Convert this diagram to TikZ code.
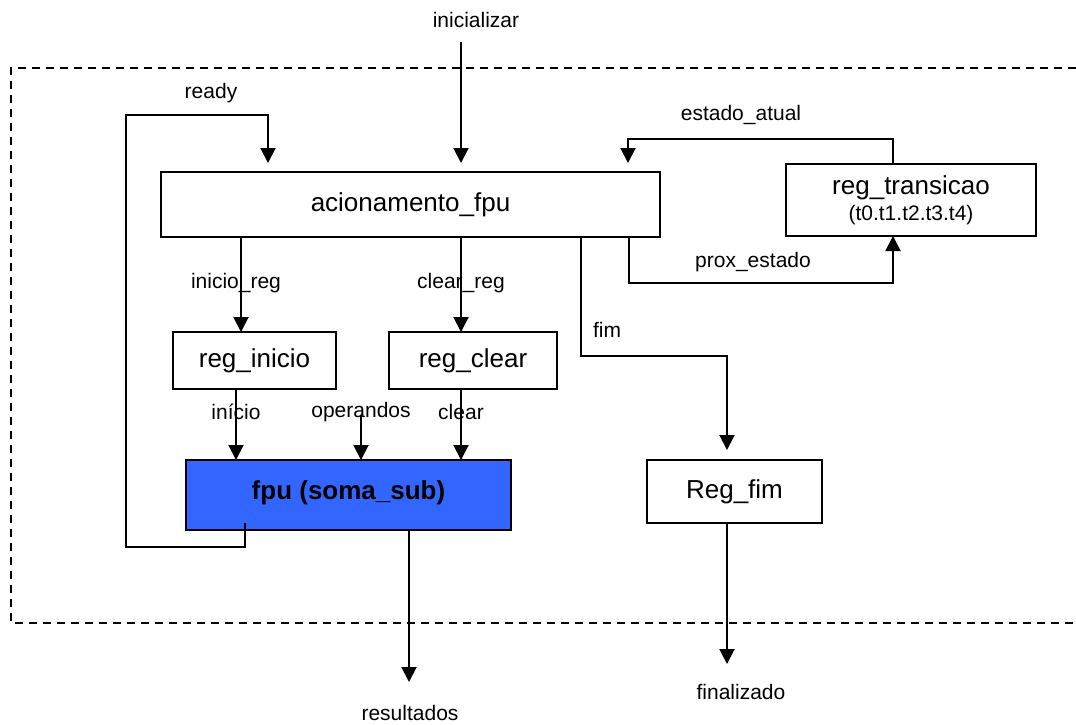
\documentclass[tikz,border=0pt]{standalone}
\usepackage{fontspec}
\setmainfont{Liberation Sans}
\usetikzlibrary{arrows.meta}
\begin{document}
\begin{tikzpicture}[x=1pt,y=-1pt,
  wire/.style={line width=2pt},
  arr/.style={wire,-{Triangle[width=15pt,length=15pt]}},
  blockbox/.style={draw,line width=2pt,inner sep=0pt,outer sep=0pt,
    font=\fontsize{26}{30}\selectfont},
  sig/.style={inner sep=0pt,font=\fontsize{21}{24}\selectfont}]
\useasboundingbox (0,0) rectangle (1076,724);

% system boundary (open on the right)
\draw[line width=2pt,dash pattern=on 8pt off 6pt]
  (1076,68) -- (11,68) -- (11,623) -- (1076,623);

% blocks
\node[blockbox,minimum width=499pt,minimum height=65pt] (acio) at (410.5,204.5) {acionamento\_fpu};
\node[blockbox,minimum width=250pt,minimum height=72pt,align=center] (trans) at (911,200)
  {reg\_transicao\\[-4pt]{\fontsize{21}{24}\selectfont (t0.t1.t2.t3.t4)}};
\node[blockbox,minimum width=163pt,minimum height=57pt] (rini) at (254.5,360.5) {reg\_inicio};
\node[blockbox,minimum width=168pt,minimum height=57pt] (rclr) at (473,360.5) {reg\_clear};
\node[blockbox,fill={rgb,255:red,51;green,102;blue,255},minimum width=325pt,minimum height=70pt,
  text depth=10pt,font=\fontsize{26}{30}\selectfont\bfseries] (fpu) at (348.5,495) {fpu (soma\_sub)};
\node[blockbox,minimum width=175pt,minimum height=63pt] (rfim) at (734.5,491.5) {Reg\_fim};

% signal names
\node[sig] (linit) at (476,20) {inicializar};
\node[sig] (lready) at (211,93) {ready};
\node[sig] (lest) at (741,115) {estado\_atual};
\node[sig] (lireg) at (236,283) {inicio\_reg};
\node[sig] (lcreg) at (461,283) {clear\_reg};
\node[sig] (lprox) at (753,262) {prox\_estado};
\node[sig] (lfim) at (607,330) {fim};
\node[sig] (linicio) at (236,412) {início};
\node[sig] (lop) at (361,412) {operandos};
\node[sig] (lclr) at (461,412) {clear};
\node[sig] (lres) at (410,713) {resultados};
\node[sig] (lfin) at (741,692) {finalizado};

% routing columns and rows
\coordinate (xinit) at (461,42);
\coordinate (xready) at (245,0);
\coordinate (xreadyin) at (268,0);
\coordinate (xloop) at (126,0);
\coordinate (yloopb) at (0,547);
\coordinate (yloopt) at (0,115);
\coordinate (xireg) at (241,0);
\coordinate (xcreg) at (461,0);
\coordinate (xinicio) at (236,0);
\coordinate (xop) at (361,415);
\coordinate (xclr) at (461,0);
\coordinate (xfim) at (581,0);
\coordinate (yfim) at (0,356);
\coordinate (xfimin) at (727,0);
\coordinate (xprox) at (629,0);
\coordinate (yprox) at (0,283);
\coordinate (xtr) at (893,0);
\coordinate (yest) at (0,139);
\coordinate (xestin) at (628,0);
\coordinate (xres) at (409,682);
\coordinate (xfin) at (727,664);

% connectors
\draw[arr,shorten >=9pt] (xinit) -- (acio.north -| xinit);
\draw[arr,shorten >=9pt] ([yshift=7pt]fpu.south -| xready) -- (yloopb -| xready)
  -- (yloopb -| xloop) -- (yloopt -| xloop) -- (yloopt -| xreadyin) -- (acio.north -| xreadyin);
\draw[arr] (acio.south -| xireg) -- (rini.north -| xireg);
\draw[arr] (acio.south -| xcreg) -- (rclr.north -| xcreg);
\draw[arr] (rini.south -| xinicio) -- (fpu.north -| xinicio);
\draw[arr] (xop) -- (fpu.north -| xop);
\draw[arr] (rclr.south -| xclr) -- (fpu.north -| xclr);
\draw[arr,shorten >=10pt] (acio.south -| xfim) -- (yfim -| xfim) -- (yfim -| xfimin) -- (rfim.north -| xfimin);
\draw[arr] (acio.south -| xprox) -- (yprox -| xprox) -- (yprox -| xtr) -- (trans.south -| xtr);
\draw[arr,shorten >=9pt] (trans.north -| xtr) -- (yest -| xtr) -- (yest -| xestin) -- (acio.north -| xestin);
\draw[arr] (fpu.south -| xres) -- (xres);
\draw[arr] (rfim.south -| xfin) -- (xfin);
\end{tikzpicture}
\end{document}
